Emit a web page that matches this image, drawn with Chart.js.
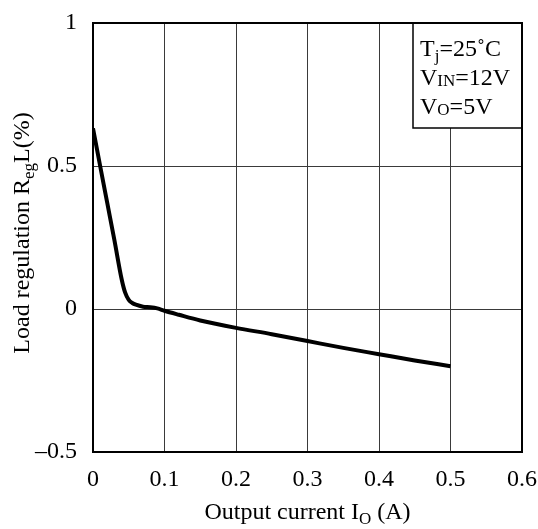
<!DOCTYPE html>
<html>
<head>
<meta charset="utf-8">
<script src="https://cdn.jsdelivr.net/npm/chart.js@4/dist/chart.umd.min.js"></script>
<style>
  html, body { margin: 0; padding: 0; background: #fff; }
  #wrap { width: 538px; height: 529px; }
</style>
</head>
<body>
<div id="wrap"><canvas id="c" width="538" height="529"></canvas></div>
<script>
// ---- data ----
const currentA = [0, 0.01, 0.02, 0.03, 0.04, 0.045, 0.05, 0.055, 0.06, 0.07, 0.08, 0.09, 0.1, 0.12, 0.15, 0.2, 0.25, 0.3, 0.35, 0.4, 0.45, 0.5];
const regulationPct = [0.632, 0.5, 0.37, 0.24, 0.105, 0.057, 0.032, 0.021, 0.015, 0.008, 0.006, 0.002, -0.006, -0.02, -0.04, -0.066, -0.088, -0.112, -0.136, -0.158, -0.18, -0.2];
const xTickRange = [0, 0.6, 0.1];
const yTickRange = [-0.5, 1, 0.5];
const xTitleParts = [["Output current I"], ["O", "sub"], [" (A)"]];
const yTitleParts = [["Load regulation R"], ["eg", "sub"], ["L(%)"]];
const conditionLines = [
  [["T"], ["j", "sub"], ["=25\u02DAC"]],
  [["V"], ["IN", "sc"], ["=12V"]],
  [["V"], ["O", "sc"], ["=5V"]]
];

const FONT = '"Liberation Serif", "Times New Roman", serif';

function drawRich(ctx, parts, x, y, size, align) {
  const segs = parts.map(p => {
    const kind = p[1] || "";
    const s = kind ? Math.round(size * 0.7) : size;
    const dy = kind === "sub" ? size * 0.2 : (kind === "sc" ? size * 0.05 : 0);
    ctx.font = s + "px " + FONT;
    return { t: p[0], s, dy, w: ctx.measureText(p[0]).width };
  });
  const total = segs.reduce((a, b) => a + b.w, 0);
  let cx = align === "center" ? x - total / 2 : x;
  ctx.textAlign = "left";
  ctx.textBaseline = "alphabetic";
  ctx.fillStyle = "#000";
  for (const sg of segs) {
    ctx.font = sg.s + "px " + FONT;
    ctx.fillText(sg.t, cx, y + sg.dy);
    cx += sg.w;
  }
}

const decorPlugin = {
  id: "decor",
  afterDraw(chart) {
    const ctx = chart.ctx;
    const a = chart.chartArea;
    ctx.save();
    // condition box
    const bx = 413, by = a.top, bw = a.right - 413, bh = 128 - a.top;
    ctx.fillStyle = "#fff";
    ctx.fillRect(bx, by, bw, bh);
    ctx.strokeStyle = "#000";
    ctx.lineWidth = 1.5;
    ctx.strokeRect(bx, by, bw, bh);
    const baselines = [56, 85, 114];
    conditionLines.forEach((ln, i) => drawRich(ctx, ln, 420, baselines[i], 24, "left"));
    // frame
    ctx.strokeStyle = "#000";
    ctx.lineWidth = 2;
    ctx.strokeRect(a.left, a.top, a.right - a.left, a.bottom - a.top);
    // axis titles
    drawRich(ctx, xTitleParts, (a.left + a.right) / 2, 519, 24, "center");
    ctx.translate(29, 233);
    ctx.rotate(-Math.PI / 2);
    drawRich(ctx, yTitleParts, 0, 0, 24, "center");
    ctx.restore();
  }
};

function fmt(v) {
  const r = Math.round(v * 10) / 10;
  if (r === 0) return "0";
  const s = Math.abs(r) === 1 ? "1" : Math.abs(r).toFixed(1);
  return r < 0 ? "\u2013" + s : s;
}

function build() {
  new Chart(document.getElementById("c"), {
    type: "line",
    data: {
      datasets: [{
        data: currentA.map((x, i) => ({ x, y: regulationPct[i] })),
        borderColor: "#000",
        borderWidth: 4,
        pointRadius: 0,
        fill: false,
        cubicInterpolationMode: "monotone",
        borderCapStyle: "butt",
        borderJoinStyle: "round"
      }]
    },
    options: {
      responsive: false,
      animation: false,
      events: [],
      layout: { padding: { left: 0, top: 23, right: 16, bottom: 0 } },
      plugins: { legend: { display: false }, tooltip: { enabled: false }, title: { display: false } },
      scales: {
        x: {
          type: "linear",
          min: xTickRange[0], max: xTickRange[1],
          ticks: { stepSize: xTickRange[2], padding: 13, color: "#000", font: { family: FONT, size: 24 }, callback: v => fmt(v), maxRotation: 0, autoSkip: false },
          grid: { color: "#3a3a3a", lineWidth: 1, drawTicks: false },
          border: { display: false },
          afterFit(s) { s.height = 77; s.paddingLeft = 0; s.paddingRight = 0; }
        },
        y: {
          type: "linear",
          min: yTickRange[0], max: yTickRange[1],
          ticks: { stepSize: yTickRange[2], padding: 16, color: "#000", font: { family: FONT, size: 24 }, callback: v => fmt(v) },
          grid: { color: "#3a3a3a", lineWidth: 1, drawTicks: false },
          border: { display: false },
          afterFit(s) { s.width = 93; s.paddingTop = 0; s.paddingBottom = 0; }
        }
      }
    },
    plugins: [decorPlugin]
  });
}

if (document.fonts && document.fonts.load) {
  Promise.all([document.fonts.load('24px "Liberation Serif"')]).then(build, build);
} else { build(); }
</script>
</body>
</html>
